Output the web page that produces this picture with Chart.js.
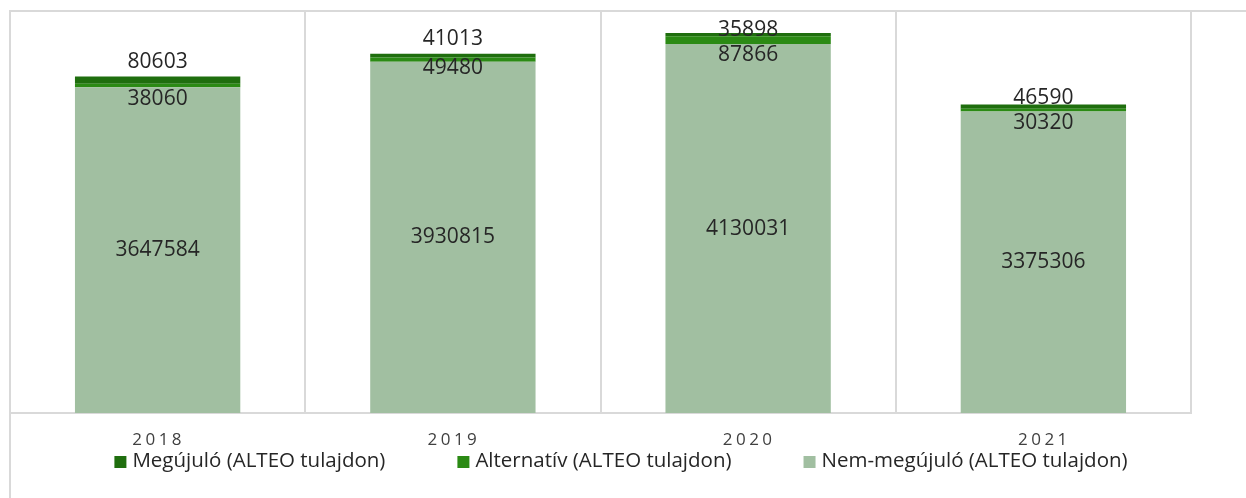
<!DOCTYPE html>
<html>
<head>
<meta charset="utf-8">
<script src="https://cdn.jsdelivr.net/npm/chart.js@4/dist/chart.umd.min.js"></script>
<style>
  html, body { margin: 0; padding: 0; background: #fff; }
  #wrap { width: 1246px; height: 498px; position: relative; }
</style>
</head>
<body>
<div id="wrap"><canvas id="chart1"></canvas></div>
<script>
// data
const years = ['2018', '2019', '2020', '2021'];
const nemMegujulo = [3647584, 3930815, 4130031, 3375306];
const alternativ = [38060, 49480, 87866, 30320];
const megujulo = [80603, 41013, 35898, 46590];

const FONT = '"Open Sans", "Noto Sans", sans-serif';
const TEXT = '#262626';

// label nudges (px) as placed by hand in the original
const topNudge = [-15, -15, -3, -7];
const altNudge = [12, 6, 11, 12];

// frame, value labels, letter-spaced year labels and the legend
const decor = {
  id: 'decor',
  beforeDraw(chart) {
    const c = chart.ctx;
    c.save();
    c.strokeStyle = '#d9d9d9';
    c.lineWidth = 2;
    c.beginPath();
    c.moveTo(9, 11); c.lineTo(chart.width, 11);
    c.moveTo(10, 11); c.lineTo(10, chart.height);
    c.stroke();
    c.restore();
  },
  afterDatasetsDraw(chart) {
    const c = chart.ctx;
    c.save();
    c.font = '21px ' + FONT;
    c.fillStyle = TEXT;
    c.textAlign = 'center';
    c.textBaseline = 'middle';
    chart.data.datasets.forEach((ds, i) => {
      chart.getDatasetMeta(i).data.forEach((bar, j) => {
        let y;
        if (ds.key === 'nem') y = (bar.y + bar.base) / 2;
        else if (ds.key === 'alt') y = bar.base + altNudge[j];
        else y = bar.y + topNudge[j];
        c.fillText(String(ds.data[j]), bar.x, y);
      });
    });
    c.restore();
  },
  afterDraw(chart) {
    const c = chart.ctx;
    const xs = chart.scales.x;
    c.save();
    c.font = '17px ' + FONT;
    c.fillStyle = '#404040';
    c.textBaseline = 'middle';
    c.letterSpacing = '3.5px';
    c.textAlign = 'center';
    years.forEach((y, i) => c.fillText(y, xs.getPixelForValue(i) + 1, 440));
    c.letterSpacing = '0px';

    // legend
    c.font = '20.5px ' + FONT;
    const items = chart.data.datasets.map(ds => ({ label: ds.label, color: ds.backgroundColor }));
    const box = 12, gap = 6, spacing = 72;
    const widths = items.map(it => box + gap + c.measureText(it.label).width);
    const total = widths.reduce((a, b) => a + b, 0) + spacing * (items.length - 1);
    let x = 621 - total / 2;
    const ly = 461;
    c.textAlign = 'left';
    items.forEach((it, i) => {
      c.fillStyle = it.color;
      c.fillRect(x, ly - box / 2 + 1, box, box);
      c.fillStyle = TEXT;
      c.fillText(it.label, x + box + gap, ly);
      x += widths[i] + spacing;
    });
    c.restore();
  }
};

new Chart(document.getElementById('chart1'), {
  type: 'bar',
  data: {
    labels: years,
    datasets: [
      { key: 'meg', label: 'Megújuló (ALTEO tulajdon)', data: megujulo, backgroundColor: '#1f6e0e', order: 3 },
      { key: 'alt', label: 'Alternatív (ALTEO tulajdon)', data: alternativ, backgroundColor: '#2b8a14', order: 2 },
      { key: 'nem', label: 'Nem-megújuló (ALTEO tulajdon)', data: nemMegujulo, backgroundColor: '#a1bfa1', order: 1 }
    ]
  },
  options: {
    responsive: true,
    maintainAspectRatio: false,
    animation: false,
    layout: { padding: { left: 10, right: 55, top: 11, bottom: 85 } },
    plugins: { legend: { display: false }, tooltip: { enabled: false } },
    datasets: { bar: { barPercentage: 0.56, categoryPercentage: 1.0 } },
    scales: {
      x: {
        stacked: true,
        grid: { offset: true, color: '#d9d9d9', lineWidth: 2, drawTicks: false },
        border: { color: '#d9d9d9', width: 2 },
        ticks: { display: false }
      },
      y: {
        stacked: true,
        display: false,
        min: 0,
        max: 4500000
      }
    }
  },
  plugins: [decor]
});
</script>
</body>
</html>
